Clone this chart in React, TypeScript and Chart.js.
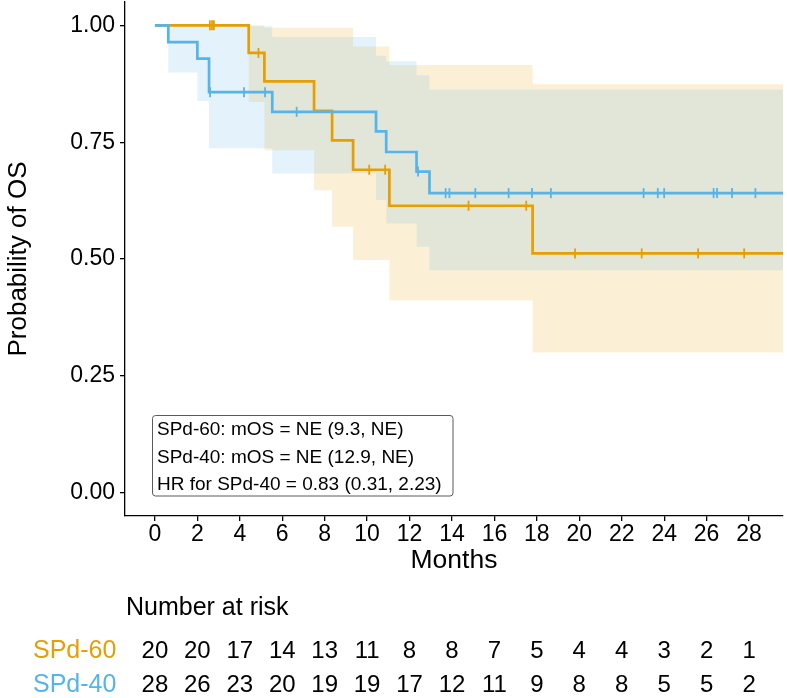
import React, { useEffect, useRef } from "react";
import { Chart, registerables } from "chart.js";

Chart.register(...registerables);

const FONT = "'Liberation Sans', Arial, Helvetica, sans-serif";

const GROUPS = ["SPd-60", "SPd-40"];
const COLORS = ["#E69F00", "#56B4E9"];
const BAND_COLORS = ["rgba(230,159,0,0.16)", "rgba(86,180,233,0.16)"];

// SPd-60 Kaplan-Meier estimate
const T_60 = [0, 4.42, 5.16, 7.5, 8.35, 9.34, 11.05, 17.8, 29.6];
const S_60 = [1, 0.941, 0.88, 0.817, 0.754, 0.691, 0.614, 0.512, 0.512];
const UPPER_60 = [1, 1, 0.995, 0.995, 0.995, 0.955, 0.915, 0.874, 0.874];
const LOWER_60 = [1, 0.836, 0.733, 0.647, 0.569, 0.498, 0.411, 0.3, 0.3];
const CENSOR_60 = [2.59, 2.69, 2.78, 4.88, 10.1, 10.85, 14.78, 17.5, 19.8, 22.94, 25.6, 27.77];

// SPd-40 Kaplan-Meier estimate
const T_40 = [0, 0.63, 2.0, 2.55, 5.53, 10.42, 10.9, 12.33, 12.94, 29.6];
const S_40 = [1, 0.964, 0.929, 0.857, 0.815, 0.773, 0.729, 0.687, 0.641, 0.641];
const UPPER_40 = [1, 1, 1, 0.998, 0.975, 0.935, 0.923, 0.893, 0.863, 0.863];
const LOWER_40 = [1, 0.899, 0.838, 0.737, 0.683, 0.626, 0.576, 0.526, 0.476, 0.476];
const CENSOR_40 = [2.6, 4.2, 5.19, 6.68, 12.4, 13.7, 13.88, 15.1, 16.67, 17.77, 18.66, 23.03, 23.7, 24.0, 26.33, 26.49, 27.2, 28.3];

const X_TICKS = [0, 2, 4, 6, 8, 10, 12, 14, 16, 18, 20, 22, 24, 26, 28];
const Y_TICKS = [0, 0.25, 0.5, 0.75, 1];
const Y_TICK_LABELS = ["0.00", "0.25", "0.50", "0.75", "1.00"];
const X_RANGE = [-1.41, 29.6];
const Y_RANGE = [-0.05, 1.05];

const RISK_TIMES = [0, 2, 4, 6, 8, 10, 12, 14, 16, 18, 20, 22, 24, 26, 28];
const RISK_60 = [20, 20, 17, 14, 13, 11, 8, 8, 7, 5, 4, 4, 3, 2, 1];
const RISK_40 = [28, 26, 23, 20, 19, 19, 17, 12, 11, 9, 8, 8, 5, 5, 2];

const ANNOTATION_LINES = [
  "SPd-60: mOS = NE (9.3, NE)",
  "SPd-40: mOS = NE (12.9, NE)",
  "HR for SPd-40 = 0.83 (0.31, 2.23)",
];

function pts(ts: number[], vs: number[]) {
  return ts.map((t, i) => ({ x: t, y: vs[i] }));
}

function survAt(ts: number[], vs: number[], t: number) {
  let v = vs[0];
  for (let i = 0; i < ts.length; i++) {
    if (ts[i] <= t) v = vs[i];
  }
  return v;
}

const overlayPlugin = {
  id: "overlay",
  afterDraw(chart: any) {
    const ctx = chart.ctx as CanvasRenderingContext2D;
    const xs = chart.scales.x;
    ctx.save();
    // annotation box
    const bx = 152.5, by = 415.5, bw = 300.5, bh = 80.5, r = 3;
    ctx.beginPath();
    ctx.moveTo(bx + r, by);
    ctx.lineTo(bx + bw - r, by);
    ctx.arcTo(bx + bw, by, bx + bw, by + r, r);
    ctx.lineTo(bx + bw, by + bh - r);
    ctx.arcTo(bx + bw, by + bh, bx + bw - r, by + bh, r);
    ctx.lineTo(bx + r, by + bh);
    ctx.arcTo(bx, by + bh, bx, by + bh - r, r);
    ctx.lineTo(bx, by + r);
    ctx.arcTo(bx, by, bx + r, by, r);
    ctx.closePath();
    ctx.fillStyle = "#ffffff";
    ctx.fill();
    ctx.strokeStyle = "#5a5a5a";
    ctx.lineWidth = 1;
    ctx.stroke();
    ctx.fillStyle = "#000";
    ctx.font = `19px ${FONT}`;
    ctx.textAlign = "left";
    ctx.textBaseline = "alphabetic";
    const baselines = [435, 462.5, 490];
    ANNOTATION_LINES.forEach((s, i) => ctx.fillText(s, 157, baselines[i]));

    // risk table
    ctx.font = `25px ${FONT}`;
    ctx.fillText("Number at risk", 126, 615);
    const rows = [RISK_60, RISK_40];
    const rowBase = [658, 692];
    rows.forEach((row, ri) => {
      ctx.font = `25px ${FONT}`;
      ctx.textAlign = "left";
      ctx.fillStyle = COLORS[ri];
      ctx.fillText(GROUPS[ri], 33, rowBase[ri]);
      ctx.font = `24px ${FONT}`;
      ctx.textAlign = "center";
      ctx.fillStyle = "#000";
      row.forEach((n, i) => {
        ctx.fillText(String(n), xs.getPixelForValue(RISK_TIMES[i]), rowBase[ri]);
      });
    });
    ctx.restore();
  },
};

export default function App() {
  const ref = useRef<HTMLCanvasElement | null>(null);

  useEffect(() => {
    if (!ref.current) return;
    Chart.defaults.font.family = FONT;
    Chart.defaults.color = "#000";

    const bandDs = (ts: number[], up: number[], lo: number[], color: string, order: number) => [
      {
        data: pts(ts, up),
        stepped: true,
        borderWidth: 0,
        pointRadius: 0,
        backgroundColor: color,
        fill: "+1",
        order,
      },
      {
        data: pts(ts, lo),
        stepped: true,
        borderWidth: 0,
        pointRadius: 0,
        backgroundColor: color,
        fill: false,
        order,
      },
    ];

    const lineDs = (ts: number[], vs: number[], color: string, order: number) => ({
      data: pts(ts, vs),
      stepped: true,
      borderColor: color,
      borderWidth: 2.7,
      pointRadius: 0,
      fill: false,
      order,
    });

    const censorDs = (cs: number[], ts: number[], vs: number[], color: string, order: number) => ({
      data: cs.map((c) => ({ x: c, y: survAt(ts, vs, c) })),
      showLine: false,
      pointStyle: "line",
      pointRotation: 90,
      pointRadius: 5,
      pointBorderWidth: 1.8,
      pointBorderColor: color,
      pointBackgroundColor: color,
      borderColor: color,
      order,
    });

    const chart = new Chart(ref.current, {
      type: "line",
      data: {
        datasets: [
          ...bandDs(T_60, UPPER_60, LOWER_60, BAND_COLORS[0], 10),
          ...bandDs(T_40, UPPER_40, LOWER_40, BAND_COLORS[1], 9),
          lineDs(T_60, S_60, COLORS[0], 4),
          censorDs(CENSOR_60, T_60, S_60, COLORS[0], 3),
          lineDs(T_40, S_40, COLORS[1], 2),
          censorDs(CENSOR_40, T_40, S_40, COLORS[1], 1),
        ] as any,
      },
      options: {
        responsive: false,
        animation: false,
        devicePixelRatio: 1,
        events: [],
        layout: { autoPadding: false, padding: { top: 2, right: 4, bottom: 120, left: 0 } },
        plugins: {
          legend: { display: false },
          tooltip: { enabled: false },
          title: { display: false },
        },
        scales: {
          x: {
            type: "linear",
            min: X_RANGE[0],
            max: X_RANGE[1],
            afterBuildTicks: (s: any) => {
              s.ticks = X_TICKS.map((v) => ({ value: v }));
            },
            afterFit: (s: any) => {
              s.height = 62;
              s.paddingLeft = 0;
              s.paddingRight = 0;
            },
            ticks: {
              font: { size: 23 },
              color: "#000",
              padding: 0,
              autoSkip: false,
              maxRotation: 0,
              callback: (v: any) => String(v),
            },
            grid: { drawOnChartArea: false, drawTicks: true, tickLength: 5, color: "#000", lineWidth: 1.3 },
            border: { display: true, color: "#000", width: 1.3 },
            title: {
              display: true,
              text: "Months",
              font: { size: 26.5 },
              color: "#000",
              padding: { top: 0, bottom: 1 },
            },
          },
          y: {
            type: "linear",
            min: Y_RANGE[0],
            max: Y_RANGE[1],
            afterBuildTicks: (s: any) => {
              s.ticks = Y_TICKS.map((v) => ({ value: v }));
            },
            afterFit: (s: any) => {
              s.width = 125;
              s.paddingTop = 0;
              s.paddingBottom = 0;
            },
            ticks: {
              font: { size: 23 },
              color: "#000",
              padding: 5,
              callback: (_v: any, i: number) => Y_TICK_LABELS[i],
            },
            grid: { drawOnChartArea: false, drawTicks: true, tickLength: 5, color: "#000", lineWidth: 1.3 },
            border: { display: true, color: "#000", width: 1.3 },
            title: {
              display: true,
              text: "Probability of OS",
              font: { size: 26 },
              color: "#000",
              padding: { top: 3, bottom: 0 },
            },
          },
        },
      } as any,
      plugins: [overlayPlugin],
    });

    return () => chart.destroy();
  }, []);

  return (
    <div style={{ position: "fixed", left: 0, top: 0, width: 787, height: 698, background: "#fff" }}>
      <canvas ref={ref} width={787} height={698} />
    </div>
  );
}
